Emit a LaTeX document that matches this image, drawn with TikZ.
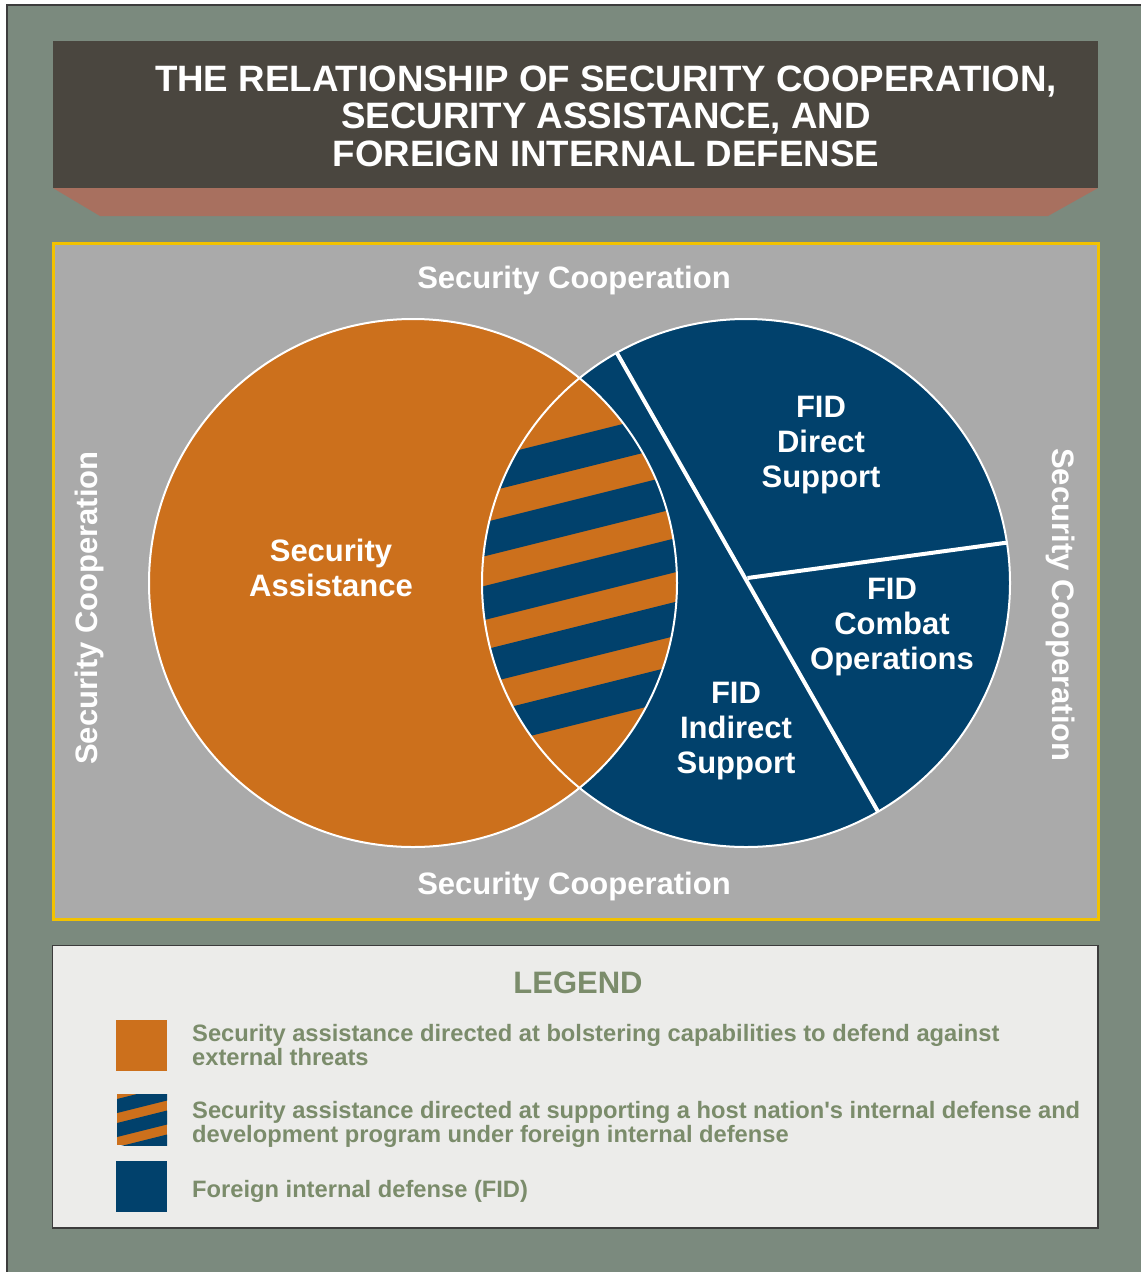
\documentclass[tikz,border=0pt]{standalone}
\usepackage{fontspec}
\setmainfont{Liberation Sans}
\usetikzlibrary{calc}
\definecolor{frameC}{HTML}{7B8A7E}
\definecolor{frameLine}{HTML}{3C3C3C}
\definecolor{bannerC}{HTML}{4A463F}
\definecolor{shadowC}{HTML}{A8705F}
\definecolor{panelC}{HTML}{AAAAAA}
\definecolor{goldC}{HTML}{F2C200}
\definecolor{orangeC}{HTML}{CC701C}
\definecolor{blueC}{HTML}{01416C}
\definecolor{legendBg}{HTML}{ECECEA}
\definecolor{legendTx}{HTML}{7B8C6B}
\tikzset{
  whitetext/.style={text=white, font=\bfseries\fontsize{31}{35}\selectfont, align=center, inner sep=0pt},
  legtext/.style={text=legendTx, font=\bfseries\fontsize{23.7}{24}\selectfont, align=left, anchor=west, inner sep=0pt},
  outline/.style={draw=white, line width=2pt},
  divider/.style={draw=white, line width=4pt},
}
\begin{document}
\begin{tikzpicture}[x=1pt,y=-1pt]
\useasboundingbox (0,0) rectangle (1141,1272);
\fill[white] (0,0) rectangle (1141,1272);
% outer frame
\fill[frameC] (7,5) rectangle (1141,1272);
\draw[frameLine, line width=1.5pt] (7,1272) -- (7,5) -- (1141,5);
% title banner
\fill[bannerC] (53,41) rectangle (1098,188);
\fill[shadowC] (53,188) -- (1098,188) -- (1048,216) -- (100,216) -- cycle;
\node[text=white, font=\bfseries\fontsize{36.7}{37.5}\selectfont, align=center, inner sep=0pt] (title) at (606,116)
  {THE RELATIONSHIP OF SECURITY COOPERATION,\\SECURITY ASSISTANCE, AND\\FOREIGN INTERNAL DEFENSE};
% main panel
\filldraw[fill=panelC, draw=goldC, line width=3pt] (53,243) rectangle (1098,919);
\coordinate (L) at (413,583);
\coordinate (R) at (746,583);
\fill[orangeC] (L) circle[radius=264pt];
\fill[blueC] (R) circle[radius=264pt];
% lens with stripes
\begin{scope}
  \clip (L) circle[radius=264pt];
  \clip (R) circle[radius=264pt];
  \fill[orangeC] (450,360) rectangle (710,800);
  \foreach \k in {579.7,643.4,707.1,770.8,834.5} {
    \fill[blueC] (460,\k-115) -- (710,\k-177.5) -- (710,\k-143.5) -- (460,\k-81) -- cycle;
  }
\end{scope}
\draw[outline] (L) circle[radius=264pt];
\draw[outline] (R) circle[radius=264pt];
% dividers in FID circle
\coordinate (dTop) at ($(R)+(119.3:264pt)$);
\coordinate (dBot) at ($(R)+(-60.0:264pt)$);
\coordinate (dMid) at (747.5,578);
\coordinate (dRight) at ($(R)+(8.8:264pt)$);
\draw[divider] (dTop) -- (dBot);
\draw[divider] (dMid) -- (dRight);
% labels
\node[whitetext] (sctop) at (574,280) {Security Cooperation};
\node[whitetext] (scbot) at (574,886) {Security Cooperation};
\node[whitetext, rotate=90] (scleft) at (89,608) {Security Cooperation};
\node[whitetext, rotate=-90] (scright) at (1061,605) {Security Cooperation};
\node[whitetext] (sa) at (331,568) {Security\\Assistance};
\node[whitetext] (fidd) at (821,445) {FID\\Direct\\Support};
\node[whitetext] (fidc) at (892,627) {FID\\Combat\\Operations};
\node[whitetext] (fidi) at (736,731) {FID\\Indirect\\Support};
% legend
\filldraw[fill=legendBg, draw=frameLine, line width=1pt] (52,945) rectangle (1098,1228);
\draw[frameLine, line width=1.5pt] (52,1228) -- (1098,1228) -- (1098,945);
\node[text=legendTx, font=\bfseries\fontsize{31}{35}\selectfont, inner sep=0pt] (legtitle) at (578,983) {LEGEND};
\fill[orangeC] (116,1020) rectangle (167,1071);
\begin{scope}
  \clip (117,1094) rectangle (167,1145);
  \fill[orangeC] (117,1094) rectangle (167,1145);
  \foreach \t in {1099,1123,1147} {
    \fill[blueC] (117,\t) -- (167,\t-12.5) -- (167,\t+1.5) -- (117,\t+14) -- cycle;
  }
\end{scope}
\fill[blueC] (116,1161) rectangle (167,1212);
\node[legtext] (leg1) at (192,1045) {Security assistance directed at bolstering capabilities to defend against\\external threats};
\node[legtext] (leg2) at (192,1124) {Security assistance directed at supporting a host nation\textquotesingle s internal defense and\\development program under foreign internal defense};
\node[legtext] (leg3) at (192,1191) {Foreign internal defense (FID)};
\end{tikzpicture}
\end{document}
